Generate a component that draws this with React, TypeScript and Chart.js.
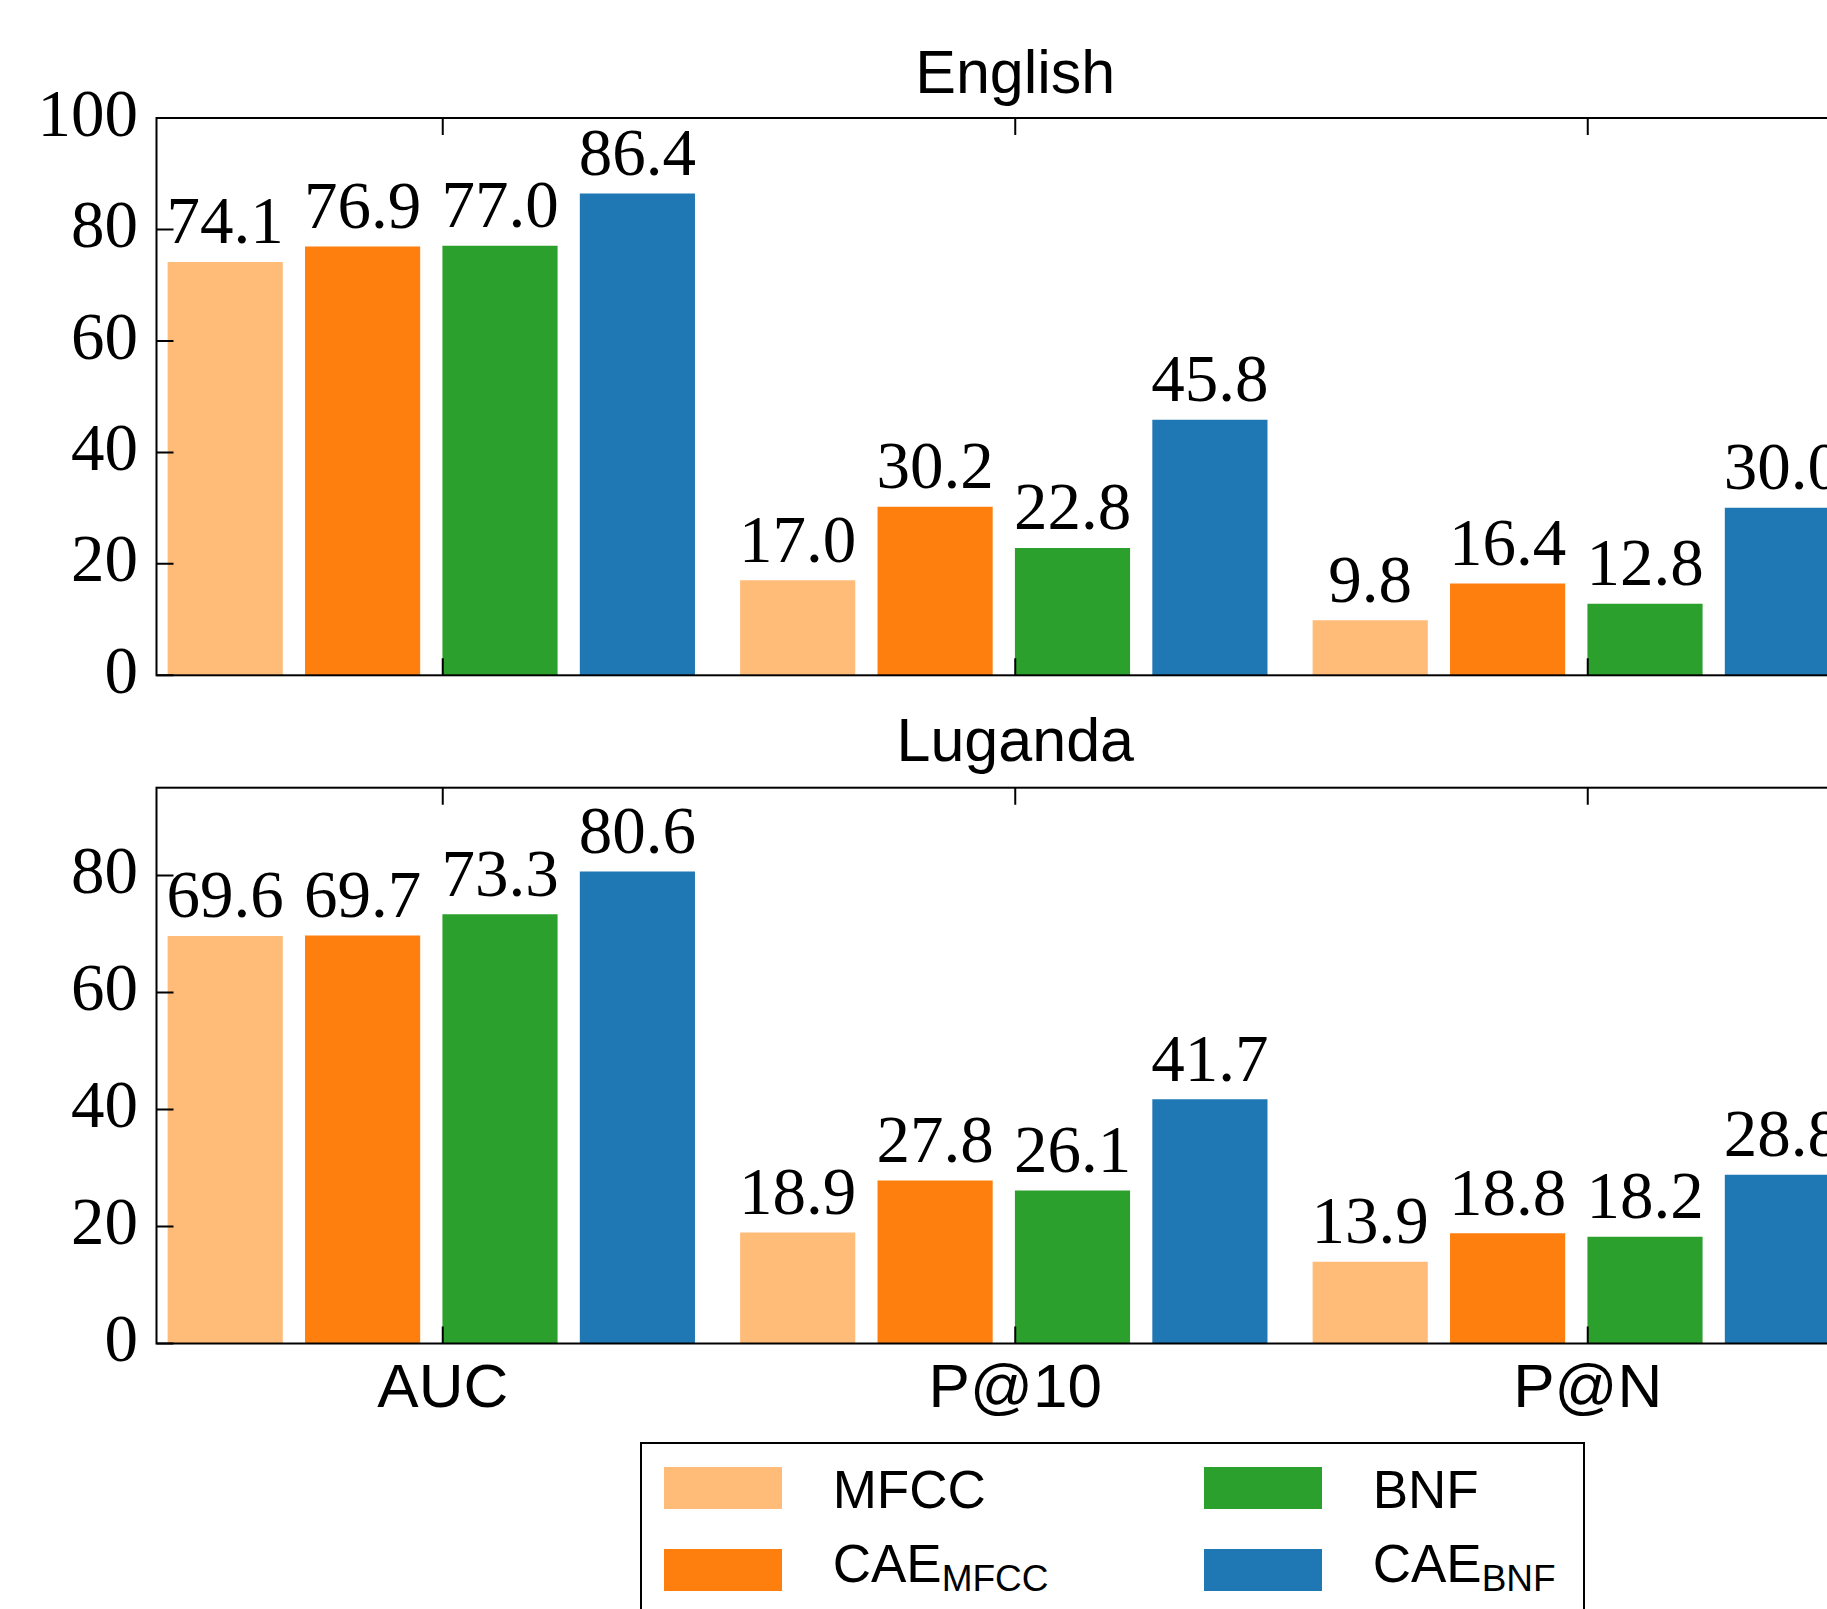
import React, { useEffect, useRef } from "react";
import { Chart, registerables } from "chart.js";

Chart.register(...registerables);

// ---------------- data ----------------
const categories = ["AUC", "P@10", "P@N"];
const seriesMain = ["MFCC", "CAE", "BNF", "CAE"];
const seriesSub = ["", "MFCC", "", "BNF"];
const seriesColors = ["#ffbb78", "#ff7f0e", "#2ca02c", "#1f77b4"];

const englishMFCC = [74.1, 17.0, 9.8];
const englishCAEMFCC = [76.9, 30.2, 16.4];
const englishBNF = [77.0, 22.8, 12.8];
const englishCAEBNF = [86.4, 45.8, 30.0];

const lugandaMFCC = [69.6, 18.9, 13.9];
const lugandaCAEMFCC = [69.7, 27.8, 18.8];
const lugandaBNF = [73.3, 26.1, 18.2];
const lugandaCAEBNF = [80.6, 41.7, 28.8];

const englishYTicks = [0, 20, 40, 60, 80, 100];
const lugandaYTicks = [0, 20, 40, 60, 80];
const englishYMax = 100;
const lugandaYMax = 95;

// ---------------- style / layout ----------------
const SANS = '"Liberation Sans", Arial, sans-serif';
const SERIF = '"Liberation Serif", "Times New Roman", serif';
const CANVAS_W = 2030;
const AXIS_LEFT = 156.5;
const PAD_RIGHT = 156;
const BAR_OFFSETS = [-0.38, -0.14, 0.1, 0.34];
const BAR_THICKNESS = 114.5;
const TICK_LEN = 17;

const framePlugin = {
  id: "frame",
  afterDatasetsDraw(chart: any) {
    const { ctx, chartArea: a, scales } = chart;
    ctx.save();
    ctx.strokeStyle = "#000";
    ctx.lineWidth = 2;
    ctx.strokeRect(a.left, a.top, a.right - a.left, a.bottom - a.top);
    ctx.beginPath();
    categories.forEach((_, j) => {
      const x = scales.x.getPixelForValue(j);
      ctx.moveTo(x, a.top);
      ctx.lineTo(x, a.top + TICK_LEN);
      ctx.moveTo(x, a.bottom);
      ctx.lineTo(x, a.bottom - TICK_LEN);
    });
    scales.y.ticks.forEach((t: any) => {
      const y = scales.y.getPixelForValue(t.value);
      ctx.moveTo(a.left, y);
      ctx.lineTo(a.left + TICK_LEN, y);
      ctx.moveTo(a.right, y);
      ctx.lineTo(a.right - TICK_LEN, y);
    });
    ctx.stroke();
    ctx.restore();
  },
};

const valueLabelPlugin = {
  id: "valueLabels",
  afterDatasetsDraw(chart: any) {
    const ctx = chart.ctx;
    ctx.save();
    ctx.font = `67px ${SERIF}`;
    ctx.fillStyle = "#000";
    ctx.textAlign = "center";
    ctx.textBaseline = "alphabetic";
    chart.data.datasets.forEach((ds: any, i: number) => {
      const meta = chart.getDatasetMeta(i);
      meta.data.forEach((el: any, j: number) => {
        const v = ds.data[j].y;
        ctx.fillText(v.toFixed(1), el.x, el.y - 19);
      });
    });
    ctx.restore();
  },
};

type PanelProps = {
  title: string;
  series: number[][];
  yTicks: number[];
  yMax: number;
  showX: boolean;
  top: number;
  height: number;
  titleTop: number;
  titleBottom: number;
  padBottom: number;
  xHeight: number;
};

function BarPanel(p: PanelProps) {
  const ref = useRef<HTMLCanvasElement>(null);
  useEffect(() => {
    const chart = new Chart(ref.current as HTMLCanvasElement, {
      type: "bar",
      data: {
        datasets: p.series.map((vals, i) => ({
          label: seriesMain[i] + seriesSub[i],
          data: vals.map((v, j) => ({ x: j + BAR_OFFSETS[i], y: v })),
          backgroundColor: seriesColors[i],
          borderWidth: 0,
          barThickness: BAR_THICKNESS,
          grouped: false,
        })) as any,
      },
      options: {
        animation: false,
        responsive: false,
        devicePixelRatio: 1,
        events: [],
        layout: { padding: { left: 0, right: PAD_RIGHT, top: 0, bottom: p.padBottom } },
        plugins: {
          legend: { display: false },
          tooltip: { enabled: false },
          title: {
            display: true,
            fullSize: false,
            text: p.title,
            color: "#000",
            font: { family: SANS, size: 61, weight: "normal", lineHeight: 1.2 },
            padding: { top: p.titleTop, bottom: p.titleBottom },
          },
        },
        scales: {
          x: {
            type: "linear",
            min: -0.5,
            max: 2.5,
            offset: false,
            display: p.showX,
            grid: { display: false, drawTicks: false },
            border: { display: false },
            afterBuildTicks: (s: any) => {
              s.ticks = categories.map((_, j) => ({ value: j }));
            },
            afterFit: (s: any) => {
              if (p.showX) s.height = p.xHeight;
            },
            ticks: {
              padding: 9.4,
              color: "#000",
              autoSkip: false,
              maxRotation: 0,
              font: { family: SANS, size: 62, lineHeight: 1.2 },
              callback: (v: any) => categories[Math.round(Number(v))] ?? "",
            },
          },
          y: {
            type: "linear",
            min: 0,
            max: p.yMax,
            grid: { display: false, drawTicks: false },
            border: { display: false },
            afterBuildTicks: (s: any) => {
              s.ticks = p.yTicks.map((v) => ({ value: v }));
            },
            afterFit: (s: any) => {
              s.width = AXIS_LEFT;
            },
            ticks: {
              padding: 18.5,
              color: "#000",
              font: { family: SERIF, size: 67, lineHeight: 1.2 },
              callback: (v: any) => String(v),
            },
          },
        },
      } as any,
      plugins: [framePlugin, valueLabelPlugin],
    });
    return () => chart.destroy();
  }, []);
  return (
    <canvas
      ref={ref}
      width={CANVAS_W}
      height={p.height}
      style={{ position: "absolute", left: 0, top: p.top, width: CANVAS_W, height: p.height }}
    />
  );
}

function Legend() {
  const colLeft = [664, 1204];
  const textLeft = [832.7, 1372.7];
  const rowTop = [1466.7, 1548.7];
  const baseline = [1508.3, 1582.3];
  const fs = 53;
  return (
    <>
      <div
        style={{
          position: "absolute",
          left: 640,
          top: 1442,
          width: 945,
          height: 300,
          border: "2px solid #000",
          boxSizing: "border-box",
          background: "#fff",
        }}
      />
      {seriesMain.map((name, i) => {
        const col = i < 2 ? 0 : 1;
        const row = i % 2;
        return (
          <React.Fragment key={i}>
            <div
              style={{
                position: "absolute",
                left: colLeft[col],
                top: rowTop[row],
                width: 118,
                height: 42,
                background: seriesColors[i],
              }}
            />
            <span
              style={{
                position: "absolute",
                left: textLeft[col],
                top: baseline[row] - 0.8465 * fs,
                fontFamily: SANS,
                fontSize: fs,
                lineHeight: `${fs}px`,
                whiteSpace: "nowrap",
                color: "#000",
              }}
            >
              {name}
              {seriesSub[i] ? (
                <span style={{ fontSize: 37, lineHeight: "37px", position: "relative", top: 8.4 }}>
                  {seriesSub[i]}
                </span>
              ) : null}
            </span>
          </React.Fragment>
        );
      })}
    </>
  );
}

export default function App() {
  useEffect(() => {
    const b = document.body;
    const pm = b.style.margin;
    const po = b.style.overflow;
    b.style.margin = "0";
    b.style.overflow = "hidden";
    return () => {
      b.style.margin = pm;
      b.style.overflow = po;
    };
  }, []);
  return (
    <div
      style={{
        position: "relative",
        width: 1827,
        height: 1609,
        overflow: "hidden",
        background: "#fff",
      }}
    >
      <BarPanel
        title="English"
        series={[englishMFCC, englishCAEMFCC, englishBNF, englishCAEBNF]}
        yTicks={englishYTicks}
        yMax={englishYMax}
        showX={false}
        top={0}
        height={760}
        titleTop={39.6}
        titleBottom={5.2}
        padBottom={760 - 675.3}
        xHeight={0}
      />
      <BarPanel
        title="Luganda"
        series={[lugandaMFCC, lugandaCAEMFCC, lugandaBNF, lugandaCAEBNF]}
        yTicks={lugandaYTicks}
        yMax={lugandaYMax}
        showX={true}
        top={660}
        height={850}
        titleTop={47.7}
        titleBottom={6.8}
        padBottom={850 - 683.5 - 100}
        xHeight={100}
      />
      <Legend />
    </div>
  );
}
